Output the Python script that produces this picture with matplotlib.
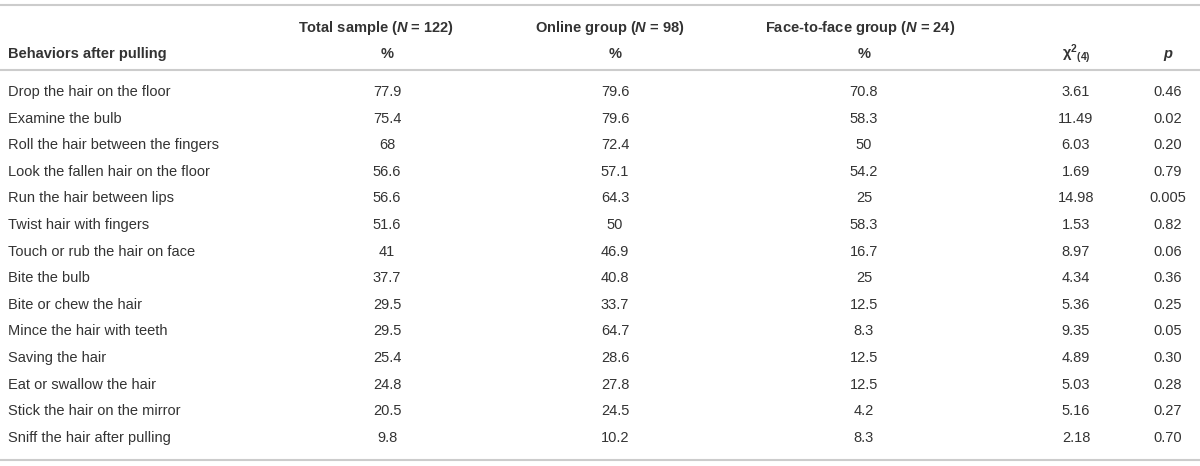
import matplotlib
matplotlib.use("Agg")
import matplotlib.pyplot as plt

behaviors = ["Drop the hair on the floor", "Examine the bulb", "Roll the hair between the fingers",
             "Look the fallen hair on the floor", "Run the hair between lips", "Twist hair with fingers",
             "Touch or rub the hair on face", "Bite the bulb", "Bite or chew the hair",
             "Mince the hair with teeth", "Saving the hair", "Eat or swallow the hair",
             "Stick the hair on the mirror", "Sniff the hair after pulling"]
total = ["77.9", "75.4", "68", "56.6", "56.6", "51.6", "41", "37.7", "29.5", "29.5", "25.4", "24.8", "20.5", "9.8"]
online = ["79.6", "79.6", "72.4", "57.1", "64.3", "50", "46.9", "40.8", "33.7", "64.7", "28.6", "27.8", "24.5", "10.2"]
face = ["70.8", "58.3", "50", "54.2", "25", "58.3", "16.7", "25", "12.5", "8.3", "12.5", "12.5", "4.2", "8.3"]
chi2 = ["3.61", "11.49", "6.03", "1.69", "14.98", "1.53", "8.97", "4.34", "5.36", "9.35", "4.89", "5.03", "5.16", "2.18"]
pvals = ["0.46", "0.02", "0.20", "0.79", "0.005", "0.82", "0.06", "0.36", "0.25", "0.05", "0.30", "0.28", "0.27", "0.70"]

plt.rcParams["font.family"] = "Liberation Sans"
plt.rcParams["mathtext.fontset"] = "custom"
plt.rcParams["mathtext.rm"] = "Liberation Sans"
plt.rcParams["mathtext.it"] = "Liberation Sans:italic:bold"
plt.rcParams["mathtext.bf"] = "Liberation Sans:bold"
fig = plt.figure(figsize=(12, 4.66), dpi=100)
ax = fig.add_axes([0, 0, 1, 1])
ax.set_xlim(0, 1200)
ax.set_ylim(466, 0)
ax.axis("off")

txt = "#333333"
fs = 10.5
line_col = "#cccccc"
for y in (5, 70, 460):
    ax.plot([0, 1200], [y, y], color=line_col, lw=1.5)

# header
ax.text(298, 28, "Total sample ($\\it{N}$ = 122)", fontsize=fs, weight="bold", color=txt, va="center")
ax.text(535, 28, "Online group ($\\it{N}$ = 98)", fontsize=fs, weight="bold", color=txt, va="center")
ax.text(765, 28, "Face-to-face group ($\\it{N}$ = 24)", fontsize=fs, weight="bold", color=txt, va="center")
ax.text(8, 54, "Behaviors after pulling", fontsize=fs, weight="bold", color=txt, va="center")
col_x = [387, 615, 864, 1076, 1168]
for x in col_x[:3]:
    ax.text(x, 54, "%", fontsize=fs, weight="bold", color=txt, va="center", ha="center")
ax.text(col_x[3], 54, "χ$^{\\mathbf{2}}$$_{\\mathbf{(4)}}$", fontsize=fs, weight="bold", color=txt, va="center", ha="center")
ax.text(col_x[4], 54, "p", fontsize=fs, weight="bold", style="italic", color=txt, va="center", ha="center")

y0, dy = 92, 26.6
for i, name in enumerate(behaviors):
    y = y0 + i * dy
    ax.text(8, y, name, fontsize=fs, color=txt, va="center")
    for x, col in zip(col_x, (total, online, face, chi2, pvals)):
        ax.text(x, y, col[i], fontsize=fs, color=txt, va="center", ha="center")

fig.savefig("out.png", dpi=100, facecolor="white")
